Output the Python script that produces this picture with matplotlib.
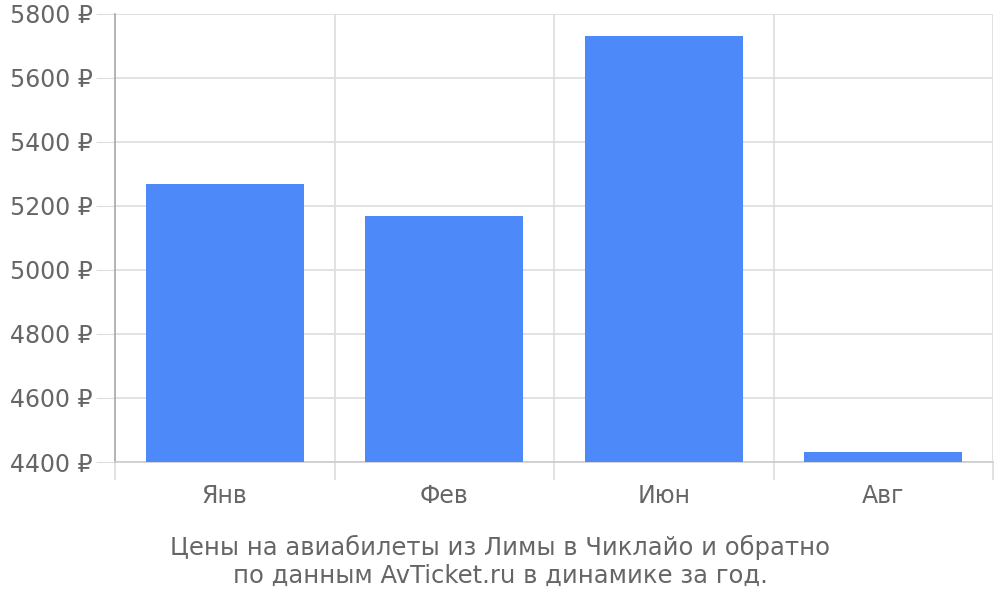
import matplotlib
matplotlib.use('Agg')
import matplotlib.pyplot as plt
import numpy as np

plt.rcParams['font.family'] = ['DejaVu Sans']

# данные
months = ['Янв', 'Фев', 'Июн', 'Авг']
prices = [5270, 5170, 5730, 4430]
yticks = [4400, 4600, 4800, 5000, 5200, 5400, 5600, 5800]
caption = 'Цены на авиабилеты из Лимы в Чиклайо и обратно\nпо данным AvTicket.ru в динамике за год.'

txt = '#666666'
grid = '#dddddd'
fs = 17

fig = plt.figure(figsize=(10, 6), dpi=100)
ax = fig.add_axes([0.115, 0.23, 0.878, 0.7467])

x = np.arange(len(months))
ax.bar(x, [p - yticks[0] for p in prices], bottom=yticks[0], width=0.72,
       color='#4d89f9', zorder=3)

ax.set_xlim(-0.5, len(months) - 0.5)
ax.set_ylim(yticks[0], yticks[-1])

ax.set_yticks(yticks)
ax.set_yticklabels(['%d ₽' % v for v in yticks])
ax.tick_params(axis='y', length=14, color=grid, labelsize=fs,
               labelcolor=txt, pad=2)
ax.yaxis.grid(True, color=grid, linewidth=1.2, zorder=0)

# подписи месяцев и разделители
ax.set_xticks(x)
ax.set_xticklabels(months)
ax.tick_params(axis='x', which='major', length=0, labelsize=fs,
               labelcolor=txt, pad=16)
ax.set_xticks(np.arange(-0.5, len(months)), minor=True)
ax.tick_params(axis='x', which='minor', length=13, color=grid, width=1.2)
ax.xaxis.grid(True, which='minor', color=grid, linewidth=1.2, zorder=0)

for s in ['top', 'right']:
    ax.spines[s].set_visible(False)
ax.spines['left'].set_color('#aaaaaa')
ax.spines['left'].set_linewidth(1.2)
ax.spines['bottom'].set_color('#cccccc')
ax.spines['bottom'].set_linewidth(1.2)

fig.text(0.5, 0.064, caption, ha='center', va='center', fontsize=17.5,
         color=txt, linespacing=1.2)

fig.savefig('out.png', dpi=100)
